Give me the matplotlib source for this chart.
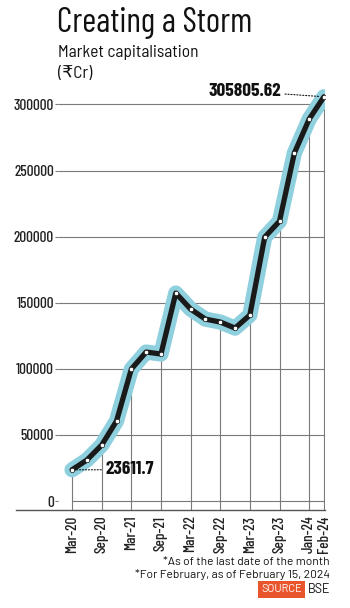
import matplotlib
matplotlib.use('Agg')
import matplotlib.pyplot as plt
from matplotlib.lines import Line2D

# quarterly market cap (Rs crore)
periods = ['Mar-20', 'Jun-20', 'Sep-20', 'Dec-20', 'Mar-21', 'Jun-21', 'Sep-21', 'Dec-21',
           'Mar-22', 'Jun-22', 'Sep-22', 'Dec-22', 'Mar-23', 'Jun-23', 'Sep-23', 'Dec-23',
           'Jan-24', 'Feb-24']
mcap = [23611.7, 31000, 42350, 60500, 99800, 112700, 111200, 157300,
        145200, 137600, 135400, 130800, 140700, 199600, 211700, 263200,
        288900, 305805.62]
shown = ['Mar-20', 'Sep-20', 'Mar-21', 'Sep-21', 'Mar-22', 'Sep-22', 'Mar-23', 'Sep-23', 'Jan-24', 'Feb-24']
yticks = [0, 50000, 100000, 150000, 200000, 250000, 300000]

COND = ['Barlow Condensed', 'DejaVu Sans']
SEMI = ['Barlow Semi Condensed', 'Barlow Condensed', 'DejaVu Sans']
REG = ['Barlow', 'DejaVu Sans']
HALO = '#8fd0df'
GRID = '#7a7a7a'

fig = plt.figure(figsize=(3.5, 6.08), dpi=100)
ax = fig.add_axes([0.1657, 0.1612, 0.7629, 0.7105])

x = list(range(len(periods)))
ymin, ymax = -6800, 320000
xmin, xmax = -0.95, 17.07
ax.set_xlim(xmin, xmax)
ax.set_ylim(ymin, ymax)

# grid
ax.hlines(yticks[1:], xmin, xmax, color=GRID, lw=0.8, zorder=1)
ax.hlines(0, 0, xmax, color=GRID, lw=0.8, zorder=1)
tick_idx = [periods.index(p) for p in shown]
ax.vlines(tick_idx, ymin, [mcap[i] for i in tick_idx], color=GRID, lw=0.8, zorder=1)

# line with halo
ax.plot(x, mcap, color=HALO, lw=11, solid_capstyle='round', solid_joinstyle='round', zorder=2)
ax.plot(x, mcap, color='#1a1a1a', lw=3.8, solid_capstyle='round', solid_joinstyle='round', zorder=3)
ax.plot(x, mcap, ls='none', marker='o', ms=3.2, mfc='white', mec='#1a1a1a', mew=0.5, zorder=4)

# axes styling
for s in ax.spines.values():
    s.set_visible(False)
ax.add_line(Line2D([-42 / 267, 1], [0, 0], transform=ax.transAxes, color='#555555', lw=1.0, clip_on=False))
ax.set_yticks(yticks)
ax.set_yticklabels([str(v) for v in yticks], family=COND, fontsize=11, fontweight='medium', color='#222222')
ax.set_xticks(tick_idx)
ax.set_xticklabels(shown, rotation=90, family=COND, fontsize=11, fontweight='medium', color='#222222')
ax.tick_params(axis='y', length=2, width=0.8, color=GRID, pad=1)
ax.tick_params(axis='x', length=0, pad=4)

# end-point labels
ax.annotate('23611.7', xy=(0, mcap[0]), xytext=(24, 0), textcoords='offset points',
            ha='left', va='center', family=COND, fontweight='bold', fontsize=13.8, color='#111111',
            arrowprops=dict(arrowstyle='-', ls=':', lw=0.8, color='#111111', shrinkA=1, shrinkB=3))
ax.annotate('305805.62', xy=(17, mcap[-1]), xytext=(-31, 4), textcoords='offset points',
            ha='right', va='center', family=COND, fontweight='bold', fontsize=13.8, color='#111111',
            arrowprops=dict(arrowstyle='-', ls=':', lw=0.8, color='#111111', shrinkA=1, shrinkB=3))

# titles
fig.text(57 / 350, 1 - 32 / 608, 'Creating a Storm', family=COND, fontsize=24.5, color='#111111', va='baseline')
fig.text(58 / 350, 1 - 57 / 608, 'Market capitalisation', family=SEMI, fontsize=12.5, color='#111111', va='baseline')
fig.text(58 / 350, 1 - 78 / 608, '(\u20b9Cr)', family=SEMI, fontsize=12.5, color='#111111', va='baseline')

# footnotes
fig.text(330 / 350, 1 - 562 / 608, '*As of the last date of the month', family=REG, fontsize=8.6,
         ha='right', va='center', color='#111111')
fig.text(330 / 350, 1 - 575 / 608, '*For February, as of February 15, 2024', family=REG, fontsize=8.6,
         ha='right', va='center', color='#111111')
fig.text(330 / 350, 1 - 589.5 / 608, 'BSE', family=REG, fontsize=9, ha='right', va='center', color='#111111')
fig.text(281.5 / 350, 1 - 589.5 / 608, 'SOURCE', family=REG, fontsize=8, ha='center', va='center', color='white',
         bbox=dict(boxstyle='square,pad=0.3', fc='#e8542b', ec='none'))

fig.savefig('out.png', dpi=100)
